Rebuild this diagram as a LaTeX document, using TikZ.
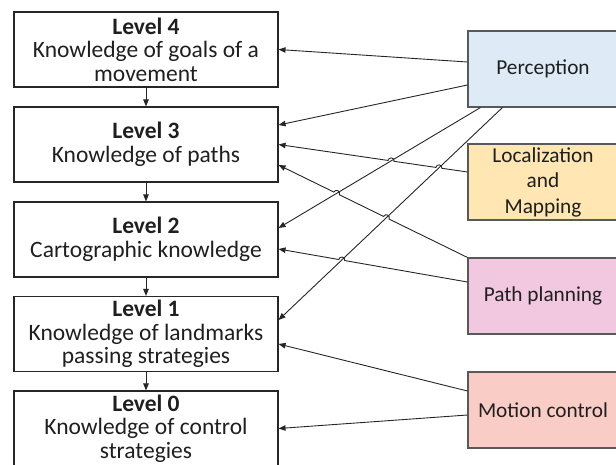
\documentclass[tikz,border=0pt]{standalone}
\usepackage{fontspec}
\setmainfont{Carlito}
\usetikzlibrary{arrows.meta,calc,intersections}
\begin{document}
\begin{tikzpicture}[x=1pt,y=-1pt,
 lvl/.style={draw=black!85,line width=1.1pt,minimum width=264pt,minimum height=75pt,inner sep=0pt,align=center,text=black!88,font=\fontsize{23.5}{23.5}\selectfont},
 mod/.style={draw=black!65,line width=1.1pt,minimum width=150pt,minimum height=76pt,inner sep=0pt,align=center,text=black!88,font=\fontsize{21.3}{25.5}\selectfont},
 conn/.style={draw=black!85,line width=0.9pt,-{Triangle[length=7pt,width=5.5pt]}},
 hopo/.style n args={3}{insert path={-- ($(#1)!3pt!(#2)$) to[relative,out=-90,in=-90,looseness=1.7] ($(#1)!3pt!(#3)$)}}
]
\useasboundingbox (0,0) rectangle (616,464);
\clip (0,0) rectangle (616,464);
\definecolor{cper}{RGB}{222,235,247}
\definecolor{cloc}{RGB}{255,230,178}
\definecolor{cpp}{RGB}{242,200,224}
\definecolor{cmc}{RGB}{250,204,198}

\node[lvl] (L4) at (146,49.5) {\textbf{Level 4}\\Knowledge of goals of a\\movement};
\node[lvl] (L3) at (146,144.5) {\textbf{Level 3}\\Knowledge of paths};
\node[lvl] (L2) at (146,239.5) {\textbf{Level 2}\\Cartographic knowledge};
\node[lvl] (L1) at (146,334) {\textbf{Level 1}\\Knowledge of landmarks\\passing strategies};
\node[lvl] (L0) at (146,428.5) {\textbf{Level 0}\\Knowledge of control\\strategies};

\node[mod,fill=cper] (per) at (543,69) {Perception};
\node[mod,fill=cloc] (loc) at (543,182) {Localization\\and\\Mapping};
\node[mod,fill=cpp] (pp) at (543,296) {Path planning};
\node[mod,fill=cmc] (mc) at (543,410) {Motion control};

\draw[conn] (L4) -- (L3);
\draw[conn] (L3) -- (L2);
\draw[conn] (L2) -- (L1);
\draw[conn] (L1) -- (L0);

% straight connectors
\draw[conn] ([yshift=7pt]per.west) -- (L4.east);
\draw[conn] ([yshift=-16pt]per.west) -- ([yshift=19.5pt]L3.east);
\coordinate (a3s) at ([xshift=13pt]per.south west);
\coordinate (a3e) at ([yshift=11.5pt]L2.east);
\coordinate (a4s) at ([xshift=35pt]per.south west);
\coordinate (a4e) at ([yshift=14pt]L1.east);
\draw[conn,name path=a3] (a3s) -- (a3e);
\draw[conn,name path=a4] (a4s) -- (a4e);
\draw[conn] ([yshift=19pt]mc.west) -- ([yshift=-10pt]L1.east);
\draw[conn] ([yshift=-5pt]mc.west) -- (L0.east);

% connectors with hops
\coordinate (b1s) at ([yshift=10pt]loc.west);
\coordinate (b1e) at (L3.east);
\coordinate (c1s) at (pp.north west);
\coordinate (c1e) at ([yshift=-20.5pt]L3.east);
\coordinate (c2s) at ([yshift=14pt]pp.west);
\coordinate (c2e) at ([yshift=-9.5pt]L2.east);
\path[name path=b1] (b1s) -- (b1e);
\path[name path=c1] (c1s) -- (c1e);
\path[name path=c2] (c2s) -- (c2e);
\path[name intersections={of=a4 and b1,by=xb2}];
\path[name intersections={of=a3 and b1,by=xb1}];
\path[name intersections={of=a4 and c1,by=xc2}];
\path[name intersections={of=a3 and c1,by=xc1}];
\path[name intersections={of=a4 and c2,by=xd1}];

\draw[conn] (b1s) [hopo={xb2}{b1s}{b1e}] [hopo={xb1}{b1s}{b1e}] -- (b1e);
\draw[conn] (c1s) [hopo={xc2}{c1s}{c1e}] [hopo={xc1}{c1s}{c1e}] -- (c1e);
\draw[conn] (c2s) [hopo={xd1}{c2s}{c2e}] -- (c2e);
\end{tikzpicture}
\end{document}
